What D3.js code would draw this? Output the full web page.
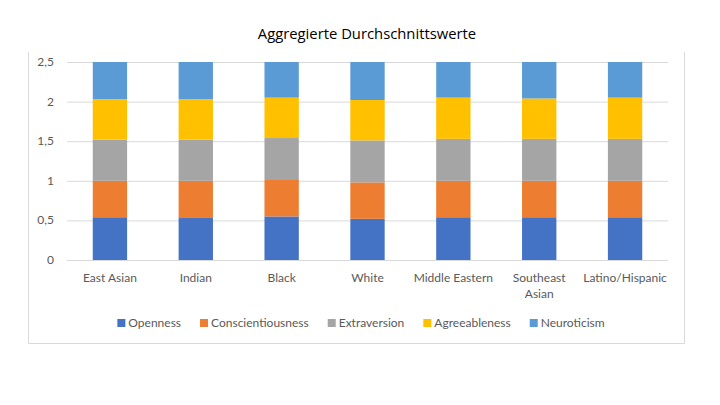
<!DOCTYPE html>
<html>
<head>
<meta charset="utf-8">
<script src="https://cdn.jsdelivr.net/npm/d3@7"></script>
<style>
  html, body { margin: 0; padding: 0; background: #fff; }
  svg { display: block; }
</style>
</head>
<body>
<svg id="chart" width="720" height="405"></svg>
<script>
// data
const groups = ["East Asian", "Indian", "Black", "White", "Middle Eastern", "Southeast Asian", "Latino/Hispanic"];
const traits = ["Openness", "Conscientiousness", "Extraversion", "Agreeableness", "Neuroticism"];
const openness = [0.54, 0.53, 0.55, 0.52, 0.54, 0.54, 0.54];
const conscientiousness = [0.46, 0.47, 0.46, 0.46, 0.46, 0.46, 0.46];
const extraversion = [0.52, 0.52, 0.53, 0.53, 0.53, 0.53, 0.53];
const agreeableness = [0.51, 0.51, 0.51, 0.51, 0.52, 0.51, 0.52];
const neuroticism = [0.52, 0.52, 0.51, 0.52, 0.52, 0.52, 0.52]; // top is cut off at 2,5
const yTicks = [0, 0.5, 1, 1.5, 2, 2.5];
const colors = ["#4472C4", "#ED7D31", "#A5A5A5", "#FFC000", "#5B9BD5"];

const series = [openness, conscientiousness, extraversion, agreeableness, neuroticism];
const rows = groups.map((g, i) => {
  const r = { group: g };
  traits.forEach((t, j) => r[t] = series[j][i]);
  return r;
});

const svg = d3.select("#chart");
const font = "Lato, 'Open Sans', sans-serif";
const fs = 12;

// frame (top edge missing, like the screenshot)
svg.append("path")
  .attr("d", "M28.5,52 V343.5 H684.5 V52")
  .attr("fill", "none")
  .attr("stroke", "#d9d9d9")
  .attr("stroke-width", 1);

svg.append("text")
  .attr("x", 367).attr("y", 39)
  .attr("text-anchor", "middle")
  .attr("font-family", "'Open Sans', sans-serif")
  .attr("font-size", 14.8)
  .attr("fill", "#000")
  .text("Aggregierte Durchschnittswerte");

const x = d3.scaleBand().domain(groups).range([67, 668]).paddingInner(0.6).paddingOuter(0.3);
const y = d3.scaleLinear().domain([0, 2.5]).range([260, 62]);

// gridlines
svg.append("g")
  .attr("transform", "translate(67,0)")
  .call(d3.axisLeft(y).tickValues(yTicks).tickSize(-601).tickFormat(""))
  .call(g => g.select(".domain").remove())
  .call(g => g.selectAll("line").attr("stroke", "#d9d9d9"));

// y labels
svg.append("g")
  .selectAll("text")
  .data(yTicks)
  .join("text")
  .attr("x", 54).attr("y", d => y(d) + 4)
  .attr("text-anchor", "end")
  .attr("font-family", font).attr("font-size", fs)
  .attr("fill", "#595959")
  .text(d => d3.format("")(d).replace(".", ","));

svg.append("clipPath").attr("id", "plot")
  .append("rect").attr("x", 60).attr("y", y(2.5)).attr("width", 620).attr("height", y(0) - y(2.5));

const stack = d3.stack().keys(traits)(rows);
svg.append("g").attr("clip-path", "url(#plot)")
  .selectAll("g")
  .data(stack)
  .join("g")
  .attr("fill", (d, i) => colors[i])
  .selectAll("rect")
  .data(d => d)
  .join("rect")
  .attr("x", d => x(d.data.group))
  .attr("width", x.bandwidth())
  .attr("y", d => y(d[1]))
  .attr("height", d => y(d[0]) - y(d[1]));

// x labels
const lines = { "Southeast Asian": ["Southeast", "Asian"] };
svg.append("g")
  .selectAll("text")
  .data(groups)
  .join("text")
  .attr("x", d => x(d) + x.bandwidth() / 2)
  .attr("y", 282)
  .attr("text-anchor", "middle")
  .attr("font-family", font).attr("font-size", fs)
  .attr("fill", "#595959")
  .each(function (d) {
    const parts = lines[d] || [d];
    d3.select(this).selectAll("tspan")
      .data(parts)
      .join("tspan")
      .attr("x", x(d) + x.bandwidth() / 2)
      .attr("dy", (p, i) => i ? 16 : 0)
      .text(p => p);
  });

// legend, laid out from text widths and centred
const leg = svg.append("g");
const items = leg.selectAll("g")
  .data(traits)
  .join("g");
items.append("rect").attr("y", -8).attr("width", 8).attr("height", 8).attr("fill", (d, i) => colors[i]);
items.append("text")
  .attr("x", 11).attr("y", 0)
  .attr("font-family", font).attr("font-size", fs)
  .attr("fill", "#595959")
  .text(d => d);
let cx = 0;
items.each(function () {
  const w = 11 + d3.select(this).select("text").node().getComputedTextLength();
  d3.select(this).attr("transform", `translate(${cx},0)`);
  cx += w + 19;
});
const total = cx - 19;
leg.attr("transform", `translate(${361 - total / 2},327)`);
</script>
</body>
</html>
